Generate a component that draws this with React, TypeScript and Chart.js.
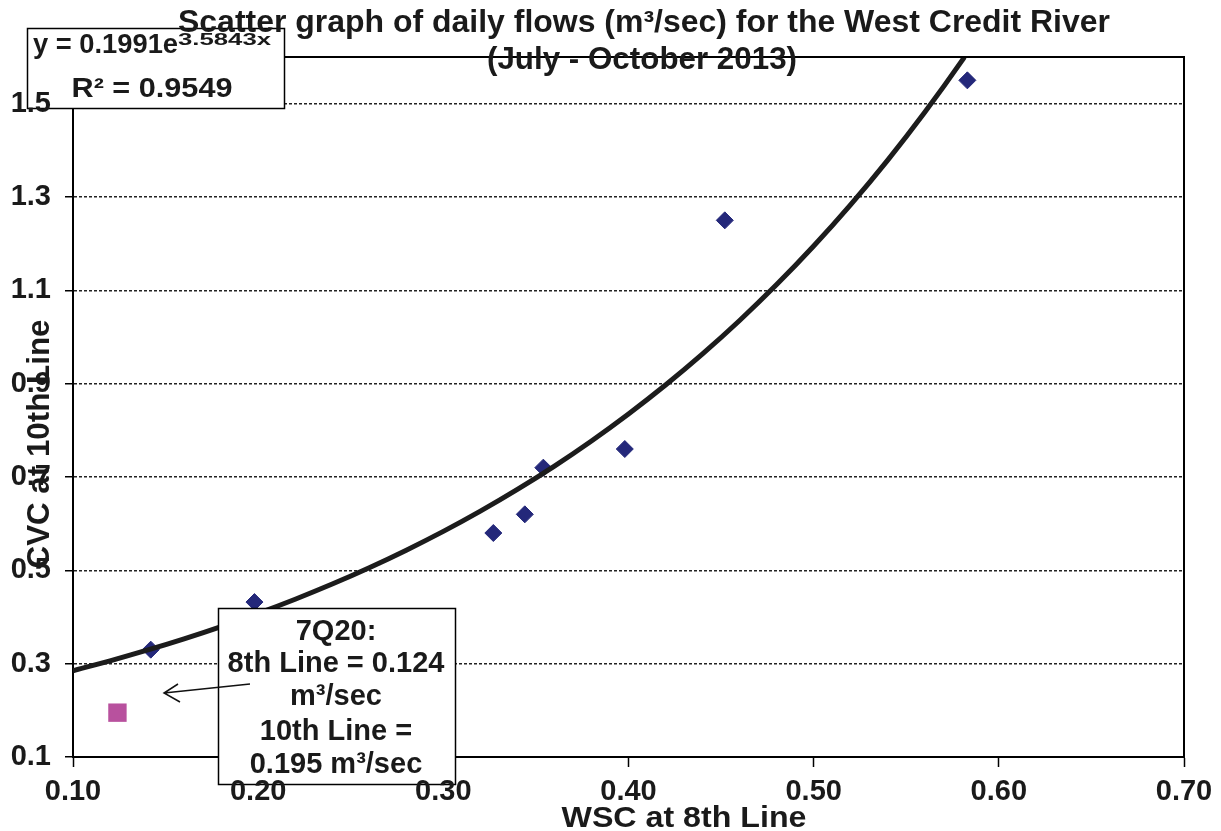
import React, { useEffect, useRef } from 'react';
import { Chart, registerables } from 'chart.js';

Chart.register(...registerables);

// ---- data ----
const observedX = [0.142, 0.198, 0.327, 0.344, 0.354, 0.398, 0.452, 0.583];
const observedY = [0.33, 0.432, 0.58, 0.62, 0.72, 0.76, 1.25, 1.55];

const q7x = [0.124];
const q7y = [0.195];

const trendX = [0.1, 0.12, 0.14, 0.16, 0.18, 0.2, 0.22, 0.24, 0.26, 0.28, 0.3, 0.32, 0.34, 0.36, 0.38, 0.4, 0.42, 0.44, 0.46, 0.48, 0.5, 0.52, 0.54, 0.56, 0.58, 0.5814];
const trendY = [0.2849, 0.3061, 0.3289, 0.3533, 0.3796, 0.4078, 0.4381, 0.4706, 0.5056, 0.5432, 0.5835, 0.6269, 0.6735, 0.7235, 0.7773, 0.8351, 0.8971, 0.9638, 1.0354, 1.1123, 1.195, 1.2838, 1.3791, 1.4816, 1.5917, 1.6];

const xTickValues = [0.1, 0.2, 0.3, 0.4, 0.5, 0.6, 0.7];
const xTickLabels = ['0.10', '0.20', '0.30', '0.40', '0.50', '0.60', '0.70'];
const yTickValues = [0.1, 0.3, 0.5, 0.7, 0.9, 1.1, 1.3, 1.5];
const yTickLabels = ['0.1', '0.3', '0.5', '0.7', '0.9', '1.1', '1.3', '1.5'];

const titleLines = ['Scatter graph of daily flows (m³/sec) for the West Credit River', '(July - October 2013)'];
const xAxisTitle = 'WSC at 8th Line';
const yAxisTitle = 'CVC at 10th Line';
const equationMain = 'y = 0.1991e';
const equationExp = '3.5843x';
const rSquaredText = 'R² = 0.9549';
const noteLines = ['7Q20:', '8th Line = 0.124', 'm³/sec', '10th Line =', '0.195 m³/sec'];

const FONT = '"Liberation Sans", Arial, sans-serif';
const TEXT = '#1a1a1a';

function drawText(
  ctx: CanvasRenderingContext2D,
  text: string,
  x: number,
  y: number,
  size: number,
  width: number | null,
  align: CanvasTextAlign = 'center'
) {
  ctx.save();
  ctx.font = `bold ${size}px ${FONT}`;
  const w = ctx.measureText(text).width;
  const sx = width ? width / w : 1;
  ctx.translate(x, y);
  ctx.scale(sx, 1);
  ctx.textAlign = align;
  ctx.textBaseline = 'alphabetic';
  ctx.fillStyle = TEXT;
  ctx.fillText(text, 0, 0);
  ctx.restore();
}

function drawBox(ctx: CanvasRenderingContext2D, x: number, y: number, w: number, h: number) {
  ctx.save();
  ctx.fillStyle = '#fff';
  ctx.strokeStyle = '#000';
  ctx.lineWidth = 1.5;
  ctx.fillRect(x, y, w, h);
  ctx.strokeRect(x, y, w, h);
  ctx.restore();
}

const decorPlugin = {
  id: 'decor',
  afterDatasetsDraw(chart: any) {
    const ctx: CanvasRenderingContext2D = chart.ctx;
    const { left, right, top, bottom } = chart.chartArea;

    // plot frame (top + right)
    ctx.save();
    ctx.strokeStyle = '#000';
    ctx.lineWidth = 2;
    ctx.beginPath();
    ctx.moveTo(left, top);
    ctx.lineTo(right, top);
    ctx.lineTo(right, bottom);
    ctx.stroke();
    ctx.restore();

    // equation box (tick labels are drawn over it)
    drawBox(ctx, 27.5, 28.5, 257, 80);
    // 7Q20 note box
    drawBox(ctx, 218.5, 608.5, 237, 176);
  },
  afterDraw(chart: any) {
    const ctx: CanvasRenderingContext2D = chart.ctx;

    drawText(ctx, equationMain, 33, 53, 27, 145, 'left');
    drawText(ctx, equationExp, 178, 45, 17, 93, 'left');
    drawText(ctx, rSquaredText, 152, 97, 28, 161, 'center');

    // title
    drawText(ctx, titleLines[0], 644, 32, 31, 932, 'center');
    drawText(ctx, titleLines[1], 642, 69, 31, 310, 'center');

    const noteBaselines = [640, 672, 705, 740, 773];
    noteLines.forEach((t, i) => drawText(ctx, t, 336, noteBaselines[i], 29, null, 'center'));

    // arrow pointing to the 7Q20 point
    ctx.save();
    ctx.strokeStyle = '#111';
    ctx.lineWidth = 1.5;
    ctx.beginPath();
    ctx.moveTo(250, 684);
    ctx.lineTo(164, 693);
    ctx.moveTo(178, 684);
    ctx.lineTo(164, 693);
    ctx.lineTo(180, 702);
    ctx.stroke();
    ctx.restore();

    // axis titles
    drawText(ctx, xAxisTitle, 684, 827, 30, 245, 'center');
    ctx.save();
    ctx.translate(49, 444);
    ctx.rotate(-Math.PI / 2);
    drawText(ctx, yAxisTitle, 0, 0, 31, 249, 'center');
    ctx.restore();
  },
};

export default function App() {
  const canvasRef = useRef<HTMLCanvasElement | null>(null);

  useEffect(() => {
    document.body.style.margin = '0';
    document.body.style.overflow = 'hidden';
    const canvas = canvasRef.current;
    if (!canvas) return;

    const chart = new Chart(canvas, {
      type: 'scatter',
      data: {
        datasets: [
          {
            label: 'Trendline',
            data: trendX.map((x, i) => ({ x, y: trendY[i] })),
            showLine: true,
            borderColor: '#1c1c1c',
            borderWidth: 5,
            pointRadius: 0,
            cubicInterpolationMode: 'monotone',
            order: 0,
          },
          {
            label: 'Daily flows',
            data: observedX.map((x, i) => ({ x, y: observedY[i] })),
            pointStyle: 'rectRot',
            pointRadius: 8.5,
            backgroundColor: '#24287a',
            borderColor: '#24287a',
            borderWidth: 1,
            order: 1,
          },
          {
            label: '7Q20',
            data: q7x.map((x, i) => ({ x, y: q7y[i] })),
            pointStyle: 'rect',
            pointRadius: 13,
            backgroundColor: '#b8519e',
            borderColor: '#b8519e',
            borderWidth: 0,
            order: 2,
          },
        ],
      },
      options: {
        animation: false,
        responsive: true,
        maintainAspectRatio: false,
        layout: { padding: { top: 57, right: 37, left: 0, bottom: 0 } },
        plugins: {
          legend: { display: false },
          tooltip: { enabled: false },
          title: { display: false },
        },
        scales: {
          x: {
            type: 'linear',
            min: 0.1,
            max: 0.7,
            afterBuildTicks: (s: any) => {
              s.ticks = xTickValues.map((v) => ({ value: v }));
            },
            afterFit: (s: any) => {
              s.height = 74;
            },
            ticks: {
              z: 1,
              autoSkip: false,
              maxRotation: 0,
              padding: 8,
              color: TEXT,
              font: { family: FONT, size: 29, weight: 'bold' },
              callback: (_v: any, i: number) => xTickLabels[i],
            },
            grid: {
              drawOnChartArea: false,
              drawTicks: true,
              tickLength: 10,
              tickColor: '#000',
              tickWidth: 1.5,
            },
            border: { display: true, color: '#000', width: 2 },
          },
          y: {
            type: 'linear',
            min: 0.1,
            max: 1.6,
            afterBuildTicks: (s: any) => {
              s.ticks = yTickValues.map((v) => ({ value: v }));
            },
            afterFit: (s: any) => {
              s.width = 73;
            },
            ticks: {
              z: 1,
              autoSkip: false,
              padding: 14,
              color: TEXT,
              font: { family: FONT, size: 29, weight: 'bold' },
              callback: (_v: any, i: number) => yTickLabels[i],
            },
            grid: {
              color: '#222',
              lineWidth: 1.5,
              drawTicks: true,
              tickLength: 8,
              tickColor: '#000',
              tickWidth: 1.5,
              tickBorderDash: [],
            },
            border: { display: true, color: '#000', width: 2, dash: [3, 2] },
          },
        },
      },
      plugins: [decorPlugin],
    } as any);

    return () => chart.destroy();
  }, []);

  return (
    <div style={{ position: 'absolute', left: 0, top: 0, width: 1221, height: 831, background: '#fff' }}>
      <canvas ref={canvasRef} />
    </div>
  );
}
